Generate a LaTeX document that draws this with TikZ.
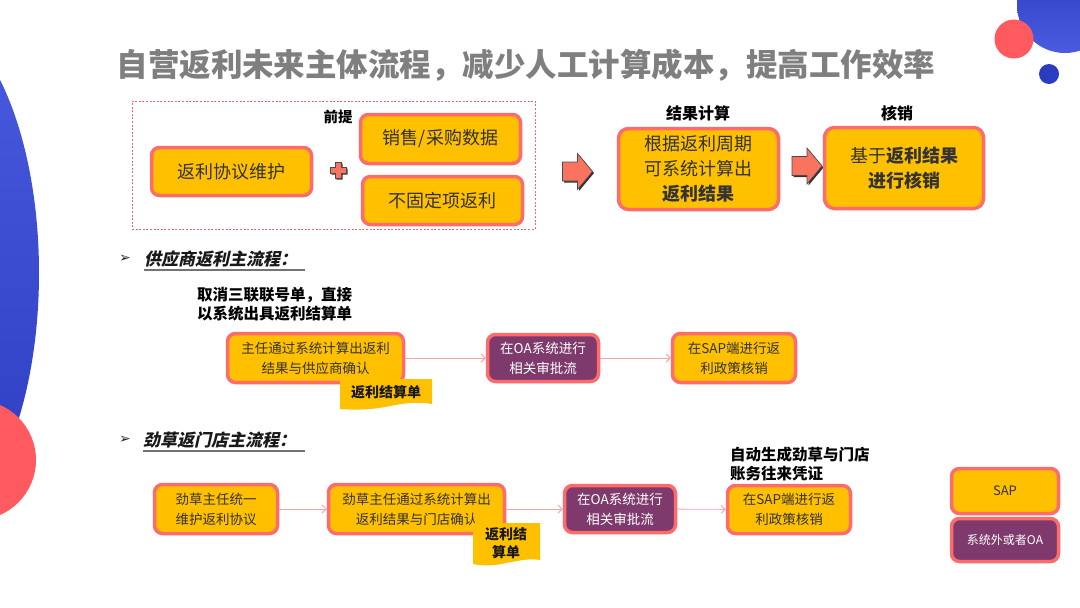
\documentclass[tikz,border=0pt]{standalone}
\usepackage{fontspec}
\setmainfont{Noto Sans CJK SC}
\newfontfamily\hfont{Noto Sans CJK SC}[FakeSlant=0.22]
\newfontfamily\djv{DejaVu Sans}
\usetikzlibrary{arrows.meta}
\definecolor{ybg}{HTML}{FFC000}
\definecolor{bred}{HTML}{FF6B6B}
\definecolor{pur}{HTML}{7E3A6C}
\definecolor{tdark}{HTML}{333333}
\definecolor{arrred}{HTML}{F9735F}
\definecolor{connc}{HTML}{F4A6A6}
\definecolor{dashred}{HTML}{E07070}
\definecolor{blueA}{HTML}{4A5BE0}
\definecolor{blueB}{HTML}{2C3CC0}
\definecolor{cred}{HTML}{FF5A5F}
\definecolor{titlegray}{HTML}{7F7F7F}
\tikzset{
  ybox/.style={draw=bred, line width=3.5pt, fill=ybg, rounded corners=8pt, text=tdark, align=center, inner sep=2pt},
  pbox/.style={ybox, fill=pur, text=white},
  bigtxt/.style={font=\fontsize{18}{25}\selectfont},
  smtxt/.style={font=\fontsize{13.5}{20}\selectfont},
  lbl/.style={font=\bfseries\fontsize{16}{20}\selectfont, text=black},
  note/.style={font=\bfseries\fontsize{15.5}{18.5}\selectfont, text=black, align=left, anchor=west, inner sep=0pt},
  hdr/.style={font=\hfont\bfseries\fontsize{17}{20}\selectfont, text=black!90, anchor=west, inner sep=0pt},
  bul/.style={font=\djv\fontsize{14}{15}\selectfont, text=black!85, inner sep=0pt},
  conn/.style={draw=connc, line width=0.9pt, -{Straight Barb[length=4pt,width=8pt]}},
  frame/.style={draw=dashred, dash pattern=on 2pt off 1.6pt, line width=0.7pt, inner sep=0pt},
  tagtxt/.style={font=\bfseries\fontsize{14}{18.5}\selectfont, text=black!90, align=center, inner sep=0pt},
  blockarrow/.pic={
    \fill[black!80] (-13.5,-8) -- (1.5,-8) -- (1.5,-16.5) -- (16.5,1.5) -- (1.5,19.5) -- (1.5,11) -- (-13.5,11) -- cycle;
    \filldraw[fill=arrred, draw=black!70, line width=0.6pt] (-15,-9.5) -- (0,-9.5) -- (0,-18) -- (15,0) -- (0,18) -- (0,9.5) -- (-15,9.5) -- cycle;
  },
  plussign/.pic={
    \fill[black!80] (-6.5,-1.5) -- (-1.5,-1.5) -- (-1.5,-6.5) -- (4.5,-6.5) -- (4.5,-1.5) -- (9.5,-1.5) -- (9.5,4.5) -- (4.5,4.5) -- (4.5,9.5) -- (-1.5,9.5) -- (-1.5,4.5) -- (-6.5,4.5) -- cycle;
    \filldraw[fill=arrred, draw=black!70, line width=0.5pt] (-8,-3) -- (-3,-3) -- (-3,-8) -- (3,-8) -- (3,-3) -- (8,-3) -- (8,3) -- (3,3) -- (3,8) -- (-3,8) -- (-3,3) -- (-8,3) -- cycle;
  }
}
\begin{document}
\begin{tikzpicture}[x=1pt,y=-1pt]
\useasboundingbox (0,0) rectangle (1080,608);
\clip (0,0) rectangle (1080,608);
\fill[white] (0,0) rectangle (1080,608);
% decorations
\shade[top color=blueA, bottom color=blueB] (-80,273) ellipse [x radius=119, y radius=261];
\fill[cred] (-24,460) circle [radius=60];
\shade[top color=blueB, bottom color=blueA] (1065,5) circle [radius=48];
\fill[cred] (1014,39) circle [radius=19.5];
\fill[blueB] (1049,74) circle [radius=10];
% title
\node[font=\bfseries\fontsize{31.5}{36}\selectfont, text=titlegray, inner sep=0pt] (title) at (526,65) {自营返利未来主体流程，减少人工计算成本，提高工作效率};
% top section
\node[frame, minimum width=403pt, minimum height=128pt] (frm) at (333.5,165) {};
\node[font=\bfseries\fontsize{14.5}{16}\selectfont, inner sep=0pt] (pre) at (338,117) {前提};
\node[ybox, bigtxt, minimum width=160pt, minimum height=48pt] (A) at (231.5,171.5) {返利协议维护};
\node[ybox, bigtxt, minimum width=160pt, minimum height=49pt] (B) at (440.5,139) {销售/采购数据};
\node[ybox, bigtxt, minimum width=160pt, minimum height=48pt] (C) at (442.5,200.5) {不固定项返利};
\pic at (338,170) {plussign};
\pic at (577.5,171.5) {blockarrow};
\node[lbl] (calc) at (698,113) {结果计算};
\node[ybox, bigtxt, minimum width=160pt, minimum height=81pt, rounded corners=10pt] (D) at (698.5,169) {根据返利周期\\可系统计算出\\\textbf{返利结果}};
\pic at (807,166) {blockarrow};
\node[lbl] (hx) at (897,113) {核销};
\node[ybox, bigtxt, minimum width=159pt, minimum height=81pt, rounded corners=10pt] (E) at (904,168) {基于\textbf{返利结果}\\\textbf{进行核销}};
% supplier flow
\node[bul] (b1) at (125,259) {➢};
\node[hdr] (h1) at (144,259) {供应商返利主流程：};
\draw[black!55, line width=1.2pt] (144,270) -- (305,270);
\node[note] (n1) at (197,304) {取消三联联号单，直接\\以系统出具返利结算单};
\node[ybox, smtxt, minimum width=176pt, minimum height=49pt] (F) at (315.5,358) {主任通过系统计算出返利\\结果与供应商确认};
\node[pbox, smtxt, minimum width=111pt, minimum height=47pt] (G) at (543,358) {在OA系统进行\\相关审批流};
\node[ybox, smtxt, minimum width=123pt, minimum height=49pt] (H) at (734,358) {在SAP端进行返\\利政策核销};
\fill[ybg] (340,379) -- (432,379) -- (432,404) .. controls (415,401) and (400,404) .. (385,407) .. controls (368,410) and (352,410) .. (340,409) -- cycle;
\node[tagtxt] (t1) at (386,392) {返利结算单};
\draw[conn] (F) -- (G);
\draw[conn] (G) -- (H);
% store flow
\node[bul] (b2) at (125,440) {➢};
\node[hdr] (h2) at (143,440) {劲草返门店主流程：};
\draw[black!55, line width=1.2pt] (143,451) -- (305,451);
\node[note] (n2) at (730,464) {自动生成劲草与门店\\账务往来凭证};
\node[ybox, smtxt, minimum width=123pt, minimum height=49pt] (I) at (216,509) {劲草主任统一\\维护返利协议};
\node[ybox, smtxt, minimum width=176pt, minimum height=49pt] (J) at (416.5,509) {劲草主任通过系统计算出\\返利结果与门店确认};
\node[pbox, smtxt, minimum width=111pt, minimum height=47pt] (K) at (620,509) {在OA系统进行\\相关审批流};
\node[ybox, smtxt, minimum width=123pt, minimum height=48pt] (L) at (789,509.5) {在SAP端进行返\\利政策核销};
\fill[ybg] (473,523) -- (540,523) -- (540,560) .. controls (528,558) and (518,561) .. (506,563) .. controls (494,566) and (483,566) .. (473,564) -- cycle;
\node[tagtxt] (t2) at (506,543) {返利结\\算单};
\draw[conn] (I) -- (J);
\draw[conn] (J) -- (K);
\draw[conn] (K) -- (L);
% legend
\node[ybox, font=\fontsize{13}{16}\selectfont, minimum width=107pt, minimum height=45pt] (lg1) at (1005,491) {SAP};
\node[pbox, font=\fontsize{12}{15}\selectfont, minimum width=107pt, minimum height=43pt] (lg2) at (1005,540) {系统外或者OA};
\end{tikzpicture}
\end{document}
